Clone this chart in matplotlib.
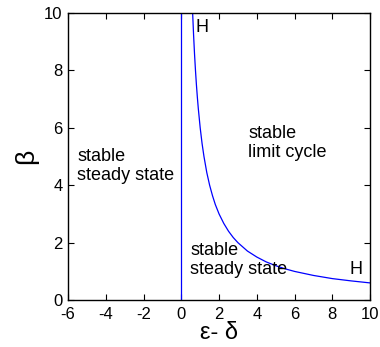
import matplotlib
matplotlib.use("Agg")
import matplotlib.pyplot as plt

plt.rcParams['font.family'] = ['Liberation Sans', 'DejaVu Sans']
plt.rcParams['axes.unicode_minus'] = False

# Hopf boundary
hopf_x = [0.6, 0.65, 0.7, 0.75, 0.8, 0.85, 0.9, 1.0, 1.1, 1.2, 1.35, 1.5, 1.65, 1.8, 2.0, 2.25,
          2.5, 2.75, 3.0, 3.5, 4.0, 4.5, 5.0, 5.5, 6.0, 7.0, 8.0, 9.0, 10.0]
hopf_beta = [10.0, 9.23, 8.57, 8.0, 7.5, 7.06, 6.67, 6.0, 5.45, 5.0, 4.44, 4.0, 3.64, 3.33, 3.0, 2.67,
             2.4, 2.18, 2.0, 1.71, 1.5, 1.33, 1.2, 1.09, 1.0, 0.86, 0.75, 0.67, 0.6]

# vertical boundary at eps - delta = 0
vert_x = [0, 0]
vert_beta = [0, 10]

xticks = [-6, -4, -2, 0, 2, 4, 6, 8, 10]
yticks = [0, 2, 4, 6, 8, 10]

fig = plt.figure(figsize=(3.8, 3.47), dpi=100)
ax = fig.add_axes([0.179, 0.135, 0.795, 0.828])

ax.plot(vert_x, vert_beta, color='blue', lw=0.9)
ax.plot(hopf_x, hopf_beta, color='blue', lw=0.9)

ax.set_xlim(-6, 10)
ax.set_ylim(0, 10)
ax.set_xticks(xticks)
ax.set_yticks(yticks)
ax.tick_params(direction='in', top=True, right=True, labelsize=12, length=4)
ax.tick_params(axis='x', pad=5)
ax.tick_params(axis='y', pad=4)
for s in ax.spines.values():
    s.set_linewidth(1.0)

ax.set_xlabel('ε- δ', fontsize=17, labelpad=0)
ax.set_ylabel('β', fontsize=19, labelpad=4)

ax.text(-5.5, 4.67, 'stable\nsteady state', fontsize=13, va='center', ha='left', linespacing=1.15)
ax.text(3.55, 5.47, 'stable\nlimit cycle', fontsize=13, va='center', ha='left', linespacing=1.15)
ax.text(0.48, 1.39, 'stable\nsteady state', fontsize=13, va='center', ha='left', linespacing=1.15)
ax.text(0.74, 9.5, 'H', fontsize=13, va='center', ha='left')
ax.text(8.9, 1.05, 'H', fontsize=13, va='center', ha='left')

fig.savefig('out.png', dpi=100)
